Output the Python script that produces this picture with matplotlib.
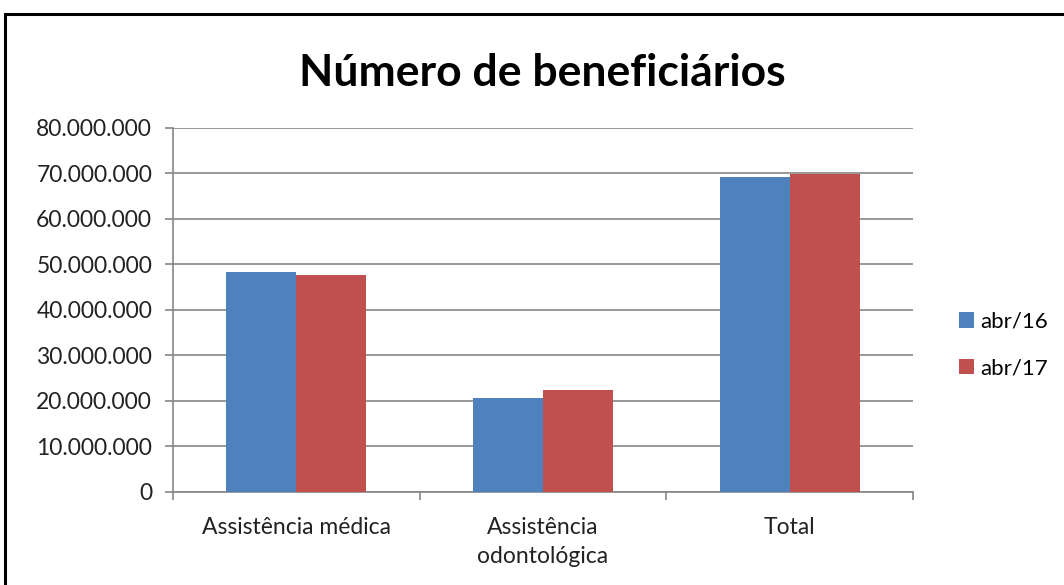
import matplotlib.pyplot as plt
import matplotlib.ticker as mticker
from matplotlib.patches import Rectangle

# dados
categorias = ['Assistência médica', 'Assistência\nodontológica', 'Total']
series = ['abr/16', 'abr/17']
abr16 = [48400000, 20700000, 69300000]
abr17 = [47600000, 22400000, 69950000]
cores = ['#4F81BD', '#C0504D']

plt.rcParams['font.family'] = ['Lato', 'DejaVu Sans']

fig = plt.figure(figsize=(10.64, 5.85), dpi=100)
ax = fig.add_axes([0.1626, 0.159, 0.6955, 0.6222])

# moldura externa
fig.patches.append(Rectangle((5 / 1064, -0.1), 1.2, 1.1 - 14 / 585,
                             transform=fig.transFigure, fill=False,
                             edgecolor='black', linewidth=2.2))

largura = 0.284
x = [0, 1, 2]
ax.bar([i - largura / 2 for i in x], abr16, largura, color=cores[0], label=series[0], zorder=3)
ax.bar([i + largura / 2 for i in x], abr17, largura, color=cores[1], label=series[1], zorder=3)

ax.set_xlim(-0.5, 2.5)
ax.set_ylim(0, 80000000)
ax.set_yticks(range(0, 80000001, 10000000))
ax.yaxis.set_major_formatter(mticker.FuncFormatter(lambda v, p: f'{int(v):,}'.replace(',', '.')))
ax.grid(axis='y', color='#868686', linewidth=1.2, zorder=0)

# ticks do eixo x nas divisas, rótulos no centro
ax.set_xticks([-0.5, 0.5, 1.5, 2.5])
ax.set_xticklabels([])
ax.set_xticks(x, minor=True)
ax.set_xticklabels(categorias, minor=True, fontsize=16.5, color='#222222', linespacing=1.5)
ax.tick_params(axis='x', which='major', length=6, color='#868686', width=1.2)
ax.tick_params(axis='x', which='minor', length=0, pad=18)
ax.tick_params(axis='y', length=6, color='#868686', width=1.2, labelsize=16.5, labelcolor='#222222', pad=9)

for s in ['top', 'right']:
    ax.spines[s].set_visible(False)
for s in ['left', 'bottom']:
    ax.spines[s].set_color('#868686')
    ax.spines[s].set_linewidth(1.2)

fig.text(0.51, 1 - 86 / 585, 'Número de beneficiários', ha='center', va='baseline',
         fontsize=32, fontweight='bold')

leg = ax.legend(loc='center left', bbox_to_anchor=(1.035, 0.404), frameon=False, fontsize=16,
                handlelength=0.7, handleheight=0.7, handletextpad=0.25, labelspacing=1.2)

fig.savefig('out.png', dpi=100)
